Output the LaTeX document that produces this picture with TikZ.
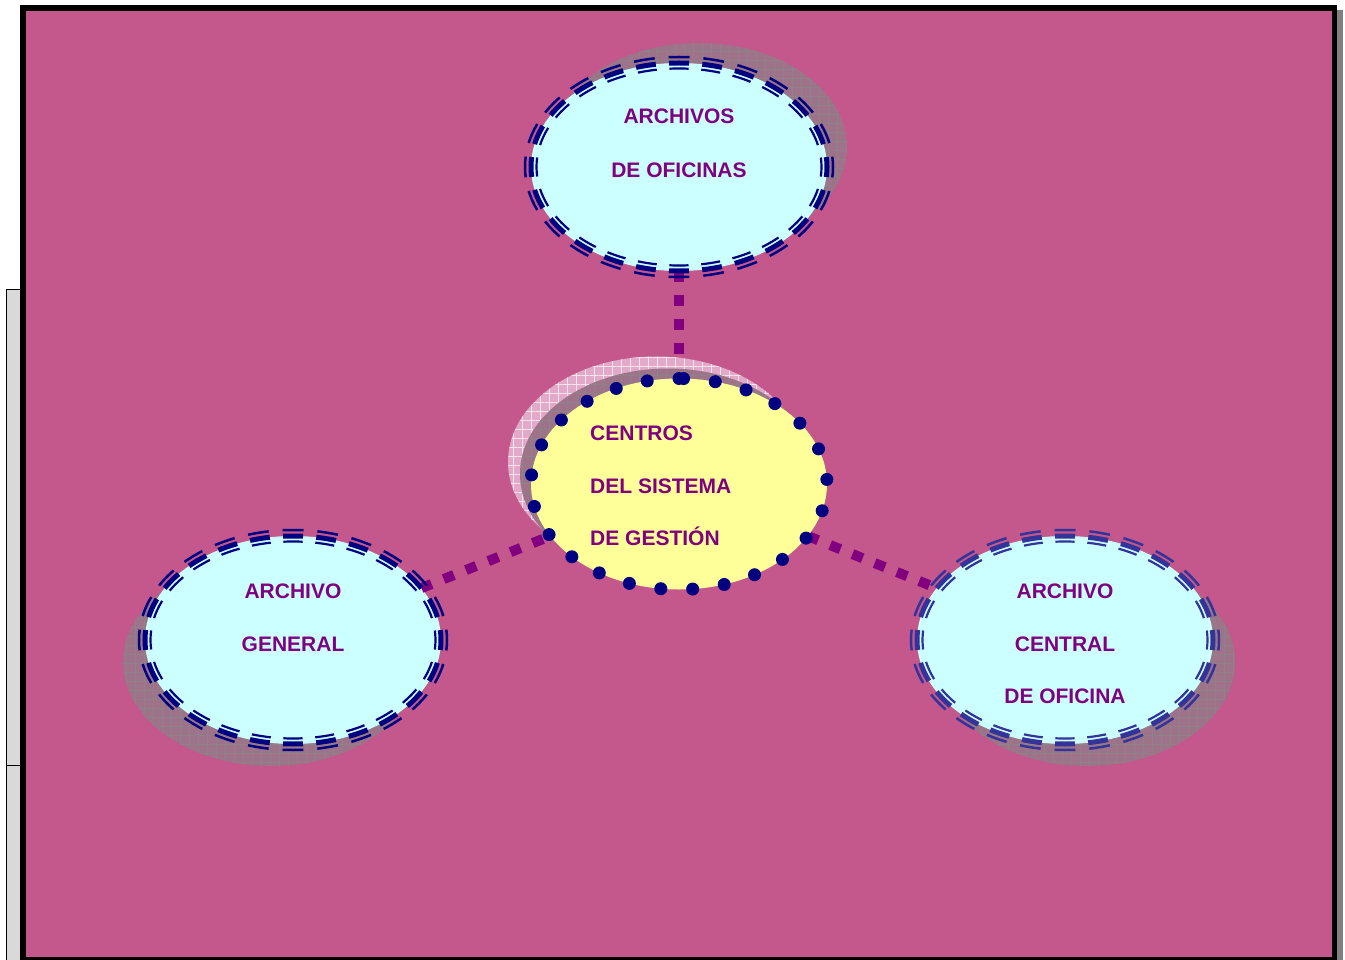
\documentclass[tikz,border=0pt]{standalone}
\usepackage{fontspec}
\setmainfont{Liberation Sans}
\usetikzlibrary{shapes.geometric,patterns.meta}
\definecolor{bgpink}{RGB}{196,87,139}
\definecolor{navyc}{RGB}{0,0,128}
\definecolor{rnavy}{RGB}{51,51,153}
\definecolor{purp}{RGB}{128,0,128}
\definecolor{cyanfill}{RGB}{204,255,255}
\definecolor{yell}{RGB}{255,255,153}
\definecolor{shadowc}{RGB}{158,114,136}
\definecolor{gridc}{RGB}{140,130,136}
\definecolor{checkc}{RGB}{226,170,200}
\definecolor{checkl}{RGB}{245,228,238}
\definecolor{fshadow}{RGB}{128,128,128}
\definecolor{boxgray}{RGB}{217,217,217}
\tikzset{
  oval/.style={ellipse, inner sep=0pt, minimum width=296pt, minimum height=208pt, fill=cyanfill},
  coreoval/.style={ellipse, inner sep=0pt, minimum width=296pt, minimum height=211pt, fill=yell},
  gridpat/.style={postaction={pattern={Lines[distance=9pt,angle=0,line width=0.5pt]}, pattern color=#1},
                  postaction={pattern={Lines[distance=9pt,angle=90,line width=0.5pt]}, pattern color=#1}},
  shadowfill/.style={fill=shadowc, gridpat=gridc},
  checkfill/.style={fill=checkc, gridpat=checkl},
  conn/.style={purp, line width=10pt, dash pattern=on 11pt off 13pt},
  txt/.style={text=purp, font=\bfseries\fontsize{21pt}{25pt}\selectfont, inner sep=0pt},
  dotring/.style={navyc, line width=13pt, line cap=round, dash pattern=on 0pt off 31.9pt}
}
\newcommand\triring[4]{%
  \foreach \dd/\ww in {6/2.5,0/5,-5.5/2.2}{%
    \pgfmathsetmacro\rrA{#2+\dd}%
    \pgfmathsetmacro\rrB{#3+\dd}%
    \pgfmathsetmacro\rrP{pi*(3*(\rrA+\rrB)-sqrt(3*\rrA+\rrB)*sqrt(\rrA+3*\rrB))/24}%
    \pgfmathsetmacro\rrOn{0.6*\rrP}%
    \pgfmathsetmacro\rrOff{\rrP-\rrOn}%
    \pgfmathsetmacro\rrPh{\rrOn/2}%
    \draw[#4, line width=\ww pt, dash pattern=on \rrOn pt off \rrOff pt, dash phase=\rrPh pt]
      ([yshift=\rrB pt]#1.center) arc[start angle=90, end angle=450, x radius=\rrA pt, y radius=\rrB pt];
  }}
\begin{document}
\begin{tikzpicture}[x=1pt,y=-1pt]
\useasboundingbox (0,0) rectangle (1345,960);
% frame
\fill[fshadow] (1337,10) rectangle (1343,960);
\draw[line width=1pt, fill=boxgray] (6,290) rectangle (21,962);
\draw[line width=1pt] (6,765) -- (21,765);
\draw[line width=5.5pt, fill=bgpink] (23,8) rectangle (1334.5,960);
% shadows of outer ovals
\fill[shadowfill] (699,147) ellipse [x radius=148pt, y radius=104pt];
\fill[shadowfill] (271,662) ellipse [x radius=148pt, y radius=104pt];
\fill[shadowfill] (1087,662) ellipse [x radius=148pt, y radius=104pt];
% outer ovals
\node[oval] (topo) at (679,167) {};
\node[oval] (lft) at (293,640) {};
\node[oval] (rgt) at (1065,640) {};
% centre node placed for connector anchors
\node[coreoval, fill=none] (ctr) at (679,484) {};
% connectors
\draw[conn] (topo) -- (ctr);
\draw[conn] (lft) -- (ctr);
\draw[conn] (ctr) -- (rgt);
% centre shadows and fill
\fill[checkfill] (656,462) ellipse [x radius=148pt, y radius=105.5pt];
\fill[shadowfill] (668,474) ellipse [x radius=148pt, y radius=105.5pt];
\fill[yell] (ctr.center) ellipse [x radius=148pt, y radius=105.5pt];
\draw[dotring] ([yshift=105.5pt]ctr.center) arc[start angle=90, end angle=450, x radius=148pt, y radius=105.5pt];
% triple dashed rings
\triring{topo}{148}{104}{navyc}
\triring{lft}{148}{104}{navyc}
\triring{rgt}{148}{104}{rnavy}
% texts
\node[txt, anchor=base] (t1) at (679,123.5) {ARCHIVOS};
\node[txt, anchor=base] (t2) at (679,177.5) {DE OFICINAS};
\node[txt, anchor=base] (t3) at (293,598.5) {ARCHIVO};
\node[txt, anchor=base] (t4) at (293,651) {GENERAL};
\node[txt, anchor=base] (t5) at (1065,598.5) {ARCHIVO};
\node[txt, anchor=base] (t6) at (1065,651) {CENTRAL};
\node[txt, anchor=base] (t7) at (1065,703.5) {DE OFICINA};
\node[txt, anchor=base west] (t8) at (590,440.5) {CENTROS};
\node[txt, anchor=base west] (t9) at (590,493.5) {DEL SISTEMA};
\node[txt, anchor=base west] (t10) at (590,545.5) {DE GESTIÓN};
\end{tikzpicture}
\end{document}
